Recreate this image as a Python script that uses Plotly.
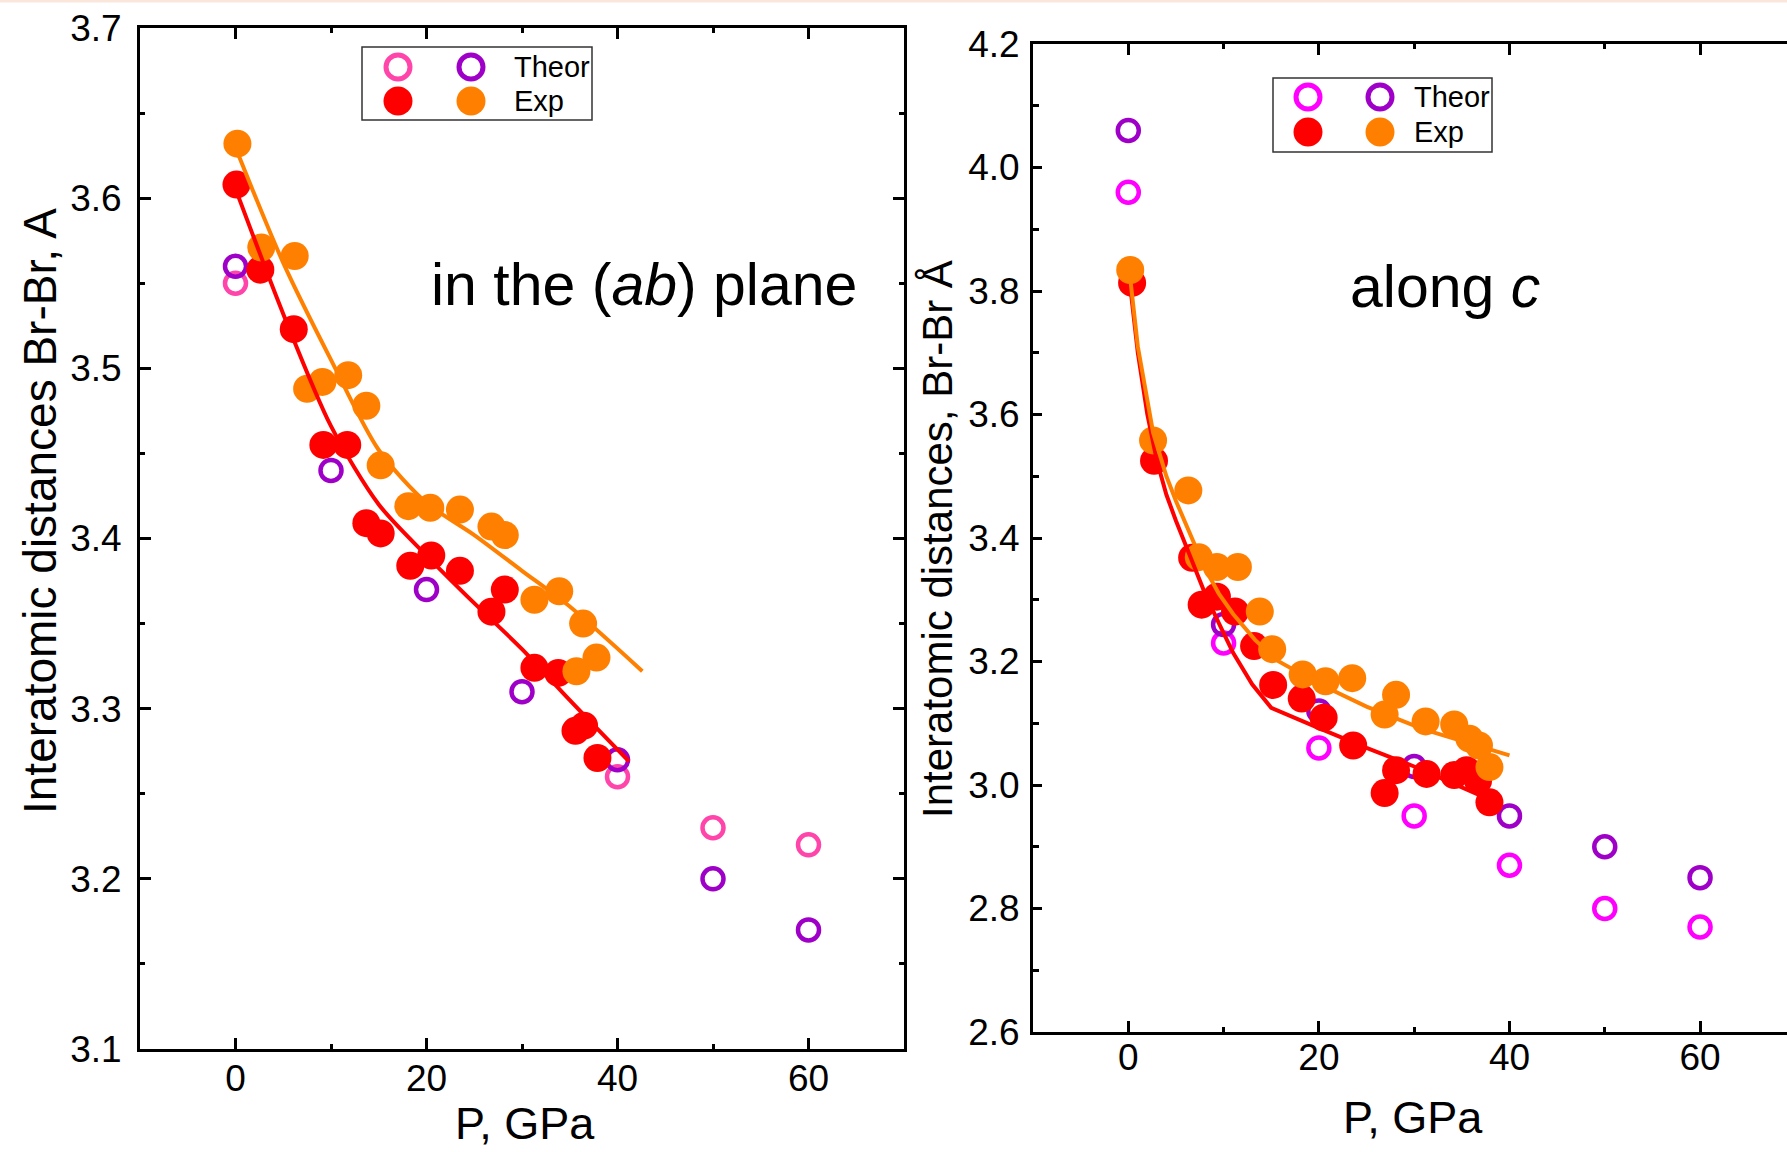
import plotly.graph_objects as go

W, H = 1787, 1152

# ---------------- data: left panel (in the ab plane) ----------------
ab_theor_pink_P = [0, 40, 50, 60]
ab_theor_pink_d = [3.55, 3.26, 3.23, 3.22]
ab_theor_purple_P = [0, 10, 20, 30, 40, 50, 60]
ab_theor_purple_d = [3.56, 3.44, 3.37, 3.31, 3.27, 3.20, 3.17]

ab_exp_red_P = [0.1, 2.6, 6.1, 9.2, 11.7, 13.7, 15.2, 18.3, 20.5, 23.5, 26.8, 28.2, 31.3, 33.8, 35.6, 36.5, 37.9]
ab_exp_red_d = [3.608, 3.558, 3.523, 3.455, 3.455, 3.409, 3.403, 3.384, 3.390, 3.381, 3.357, 3.370, 3.324, 3.321, 3.287, 3.290, 3.271]
ab_exp_orange_P = [0.2, 2.7, 6.2, 7.5, 9.1, 11.8, 13.7, 15.2, 18.1, 20.4, 23.5, 26.8, 28.2, 31.3, 33.9, 35.7, 36.4, 37.8]
ab_exp_orange_d = [3.632, 3.571, 3.566, 3.488, 3.492, 3.496, 3.478, 3.443, 3.419, 3.418, 3.417, 3.407, 3.402, 3.364, 3.369, 3.322, 3.350, 3.330]

ab_fit_red_P = [0.1, 5, 10, 15, 20, 25, 30, 35, 41.2]
ab_fit_red_d = [3.604, 3.532, 3.466, 3.420, 3.390, 3.362, 3.335, 3.305, 3.269]
ab_fit_orange_P = [0.2, 5, 10, 15, 20, 25, 30, 35, 42.6]
ab_fit_orange_d = [3.627, 3.562, 3.505, 3.452, 3.421, 3.402, 3.381, 3.360, 3.322]

# ---------------- data: right panel (along c) ----------------
c_theor_magenta_P = [0, 10, 20, 30, 40, 50, 60]
c_theor_magenta_d = [3.96, 3.23, 3.06, 2.95, 2.87, 2.80, 2.77]
c_theor_purple_P = [0, 10, 20, 30, 40, 50, 60]
c_theor_purple_d = [4.06, 3.26, 3.12, 3.03, 2.95, 2.90, 2.85]

c_exp_red_P = [0.4, 2.7, 6.7, 7.7, 9.3, 11.2, 13.2, 15.2, 18.2, 20.5, 23.6, 26.9, 28.1, 31.3, 34.2, 35.5, 36.7, 37.9]
c_exp_red_d = [3.813, 3.525, 3.368, 3.292, 3.305, 3.281, 3.225, 3.162, 3.140, 3.109, 3.064, 2.987, 3.024, 3.018, 3.016, 3.024, 3.007, 2.972]
c_exp_orange_P = [0.2, 2.6, 6.3, 7.4, 9.3, 11.5, 13.8, 15.1, 18.3, 20.7, 23.5, 26.9, 28.1, 31.2, 34.2, 35.8, 36.8, 37.9]
c_exp_orange_d = [3.834, 3.558, 3.477, 3.369, 3.353, 3.353, 3.281, 3.220, 3.179, 3.168, 3.173, 3.114, 3.146, 3.103, 3.098, 3.075, 3.064, 3.029]

c_fit_red_P = [0.2, 1, 2, 3, 4, 5, 6.5, 8, 9.5, 11, 13, 15, 20, 25, 30, 38.3]
c_fit_red_d = [3.808, 3.700, 3.600, 3.525, 3.470, 3.428, 3.370, 3.312, 3.262, 3.214, 3.163, 3.125, 3.092, 3.060, 3.030, 2.974]
c_fit_orange_P = [0.2, 1, 2.6, 4, 5, 6.5, 8, 9.5, 11, 13.3, 15.7, 20, 25, 31, 40]
c_fit_orange_d = [3.821, 3.710, 3.571, 3.500, 3.460, 3.405, 3.352, 3.310, 3.277, 3.235, 3.201, 3.164, 3.127, 3.090, 3.048]

x_ticks = [0, 20, 40, 60]
left_y_ticks = [3.1, 3.2, 3.3, 3.4, 3.5, 3.6, 3.7]
right_y_ticks = [2.6, 2.8, 3.0, 3.2, 3.4, 3.6, 3.8, 4.0, 4.2]

RED = "#FF0000"
ORANGE = "#FF8000"
PINK = "#FF44AA"
MAGENTA = "#FF00FF"
PURPLE = "#9E00C8"
FONT = "Liberation Sans, Arial, sans-serif"


def px(x):
    return x / W


def py(y):
    return 1 - y / H


fig = go.Figure()


def open_pts(P, d, color, xa, ya):
    fig.add_trace(go.Scatter(x=P, y=d, mode="markers", xaxis=xa, yaxis=ya,
                             marker=dict(symbol="circle-open", size=21, color=color,
                                         line=dict(width=4.5, color=color)),
                             showlegend=False))


def filled_pts(P, d, color, xa, ya):
    fig.add_trace(go.Scatter(x=P, y=d, mode="markers", xaxis=xa, yaxis=ya,
                             marker=dict(symbol="circle", size=28, color=color,
                                         line=dict(width=0)),
                             showlegend=False))


def fit_line(P, d, color, xa, ya, shape="spline"):
    fig.add_trace(go.Scatter(x=P, y=d, mode="lines", xaxis=xa, yaxis=ya,
                             line=dict(color=color, width=4, shape=shape,
                                       **({"smoothing": 0.8} if shape == "spline" else {})),
                             showlegend=False))


# left panel
open_pts(ab_theor_pink_P, ab_theor_pink_d, PINK, "x", "y")
open_pts(ab_theor_purple_P, ab_theor_purple_d, PURPLE, "x", "y")
filled_pts(ab_exp_red_P, ab_exp_red_d, RED, "x", "y")
filled_pts(ab_exp_orange_P, ab_exp_orange_d, ORANGE, "x", "y")
fit_line(ab_fit_red_P, ab_fit_red_d, RED, "x", "y")
fit_line(ab_fit_orange_P, ab_fit_orange_d, ORANGE, "x", "y")

# right panel
open_pts(c_theor_magenta_P, c_theor_magenta_d, MAGENTA, "x2", "y2")
open_pts(c_theor_purple_P, c_theor_purple_d, PURPLE, "x2", "y2")
filled_pts(c_exp_red_P, c_exp_red_d, RED, "x2", "y2")
filled_pts(c_exp_orange_P, c_exp_orange_d, ORANGE, "x2", "y2")
fit_line(c_fit_red_P, c_fit_red_d, RED, "x2", "y2", shape="linear")
fit_line(c_fit_orange_P, c_fit_orange_d, ORANGE, "x2", "y2", shape="linear")

axis_common = dict(showline=True, linecolor="black", linewidth=3, ticks="inside",
                   tickcolor="black", tickwidth=2.5, showgrid=False, zeroline=False,
                   automargin=False,
                   tickfont=dict(family=FONT, size=37, color="black"))

minor_x = dict(dtick=10, ticks="inside", ticklen=5, tickwidth=2.5, tickcolor="black")

fig.update_layout(
    width=W, height=H, margin=dict(l=0, r=0, t=0, b=0, pad=0, autoexpand=False),
    paper_bgcolor="white", plot_bgcolor="white", showlegend=False,
    xaxis=dict(domain=[px(140), px(904)], range=[-10, 70], anchor="y",
               tickvals=x_ticks, ticklen=11, mirror="ticks", ticklabelstandoff=-5,
               minor=minor_x, **axis_common),
    yaxis=dict(domain=[py(1049), py(28)], range=[3.1, 3.7], anchor="x",
               tickvals=left_y_ticks, ticktext=[f"{v:.1f}" for v in left_y_ticks],
               ticklen=11, mirror="ticks", ticklabelstandoff=8,
               minor=dict(dtick=0.05, ticks="inside", ticklen=5, tickwidth=2.5, tickcolor="black"),
               **axis_common),
    xaxis2=dict(domain=[px(1033), 1.0], range=[-10, 60 + (1787 - 1700) / 190.7 * 20], anchor="y2",
                tickvals=x_ticks, ticklen=11, mirror="ticks", ticklabelstandoff=-9,
                minor=minor_x, **axis_common),
    yaxis2=dict(domain=[py(1032), py(44)], range=[2.6, 4.2], anchor="x2",
                tickvals=right_y_ticks, ticktext=[f"{v:.1f}" for v in right_y_ticks],
                ticklen=9, mirror=False, ticklabelstandoff=3,
                minor=dict(dtick=0.1, ticks="inside", ticklen=6, tickwidth=2.5, tickcolor="black"),
                **axis_common),
)

annotations = [
    dict(text="Interatomic distances Br-Br, A", x=px(40), y=py(511), textangle=-90,
         font=dict(family=FONT, size=46, color="black")),
    dict(text="Interatomic distances, Br-Br Å", x=px(937), y=py(539), textangle=-90,
         font=dict(family=FONT, size=42, color="black")),
    dict(text="P, GPa", x=px(525), y=py(1123), font=dict(family=FONT, size=45, color="black")),
    dict(text="P, GPa", x=px(1413), y=py(1117), font=dict(family=FONT, size=45, color="black")),
    dict(text="in the (<i>ab</i>) plane", x=px(644), y=py(285),
         font=dict(family=FONT, size=59, color="black")),
    dict(text="along <i>c</i>", x=px(1445), y=py(287),
         font=dict(family=FONT, size=59, color="black")),
    # legend texts
    dict(text="Theor", x=px(512), y=py(67), xanchor="left",
         font=dict(family=FONT, size=29, color="black")),
    dict(text="Exp", x=px(512), y=py(101), xanchor="left",
         font=dict(family=FONT, size=29, color="black")),
    dict(text="Theor", x=px(1412), y=py(97), xanchor="left",
         font=dict(family=FONT, size=29, color="black")),
    dict(text="Exp", x=px(1412), y=py(132), xanchor="left",
         font=dict(family=FONT, size=29, color="black")),
]
for a in annotations:
    a.setdefault("xanchor", "center")
    a.update(xref="paper", yref="paper", yanchor="middle", showarrow=False)
fig.update_layout(annotations=annotations)

shapes = [
    dict(type="line", xref="paper", yref="paper", x0=0, x1=1, y0=py(1), y1=py(1),
         line=dict(color="#FBE6DC", width=3)),
    dict(type="rect", xref="paper", yref="paper", x0=px(362), x1=px(592), y0=py(120), y1=py(47),
         line=dict(color="#333333", width=1.5), fillcolor="white", layer="above"),
    dict(type="rect", xref="paper", yref="paper", x0=px(1273), x1=px(1492), y0=py(152), y1=py(78),
         line=dict(color="#333333", width=1.5), fillcolor="white", layer="above"),
]


def legend_circle(cx, cy, color, filled):
    if filled:
        r = 14.5
        return dict(type="circle", xref="paper", yref="paper", xsizemode="pixel", ysizemode="pixel",
                    xanchor=px(cx), yanchor=py(cy), x0=-r, x1=r, y0=-r, y1=r,
                    fillcolor=color, line=dict(width=0), layer="above")
    r = 12
    return dict(type="circle", xref="paper", yref="paper", xsizemode="pixel", ysizemode="pixel",
                xanchor=px(cx), yanchor=py(cy), x0=-r, x1=r, y0=-r, y1=r,
                fillcolor="white", line=dict(width=5, color=color), layer="above")


shapes += [
    legend_circle(398, 67, PINK, False), legend_circle(471, 67, PURPLE, False),
    legend_circle(398, 101, RED, True), legend_circle(471, 101, ORANGE, True),
    legend_circle(1308, 97, MAGENTA, False), legend_circle(1380, 97, PURPLE, False),
    legend_circle(1308, 132, RED, True), legend_circle(1380, 132, ORANGE, True),
]
fig.update_layout(shapes=shapes)

fig.write_html("out.html")
